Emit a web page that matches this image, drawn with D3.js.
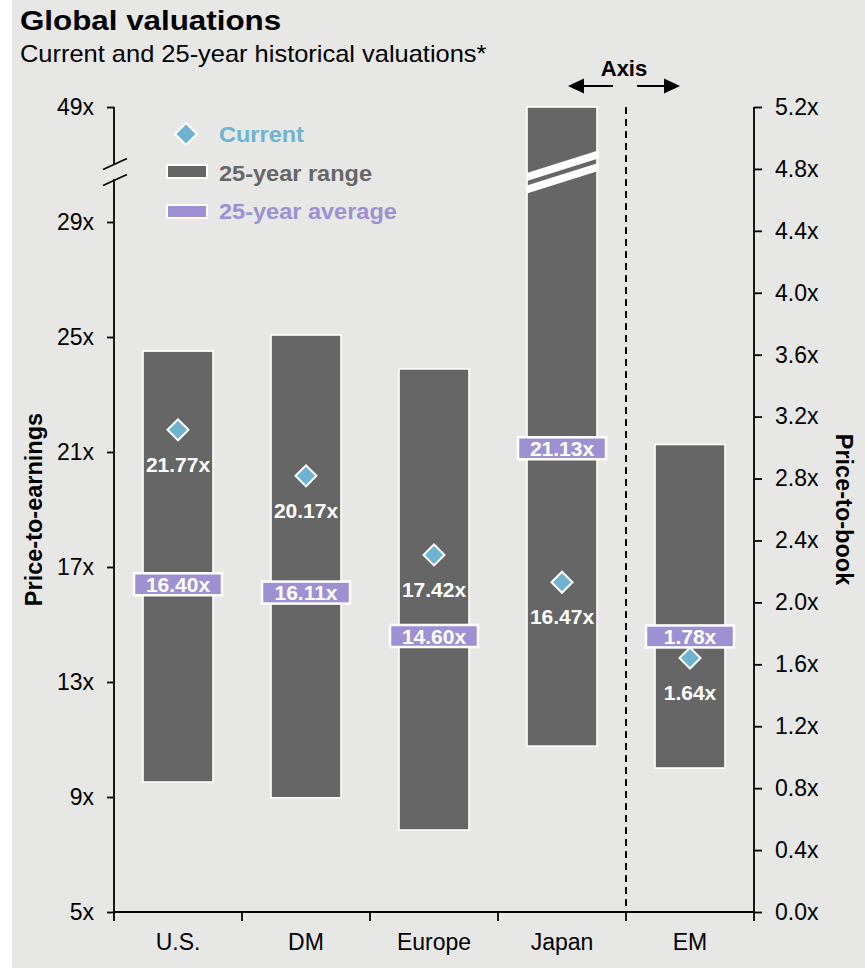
<!DOCTYPE html>
<html>
<head>
<meta charset="utf-8">
<script src="https://cdn.jsdelivr.net/npm/d3@7"></script>
<style>
  html, body { margin: 0; padding: 0; background: #ffffff; }
  svg { display: block; font-family: "Liberation Sans", Arial, Helvetica, sans-serif; }
</style>
</head>
<body>
<svg id="chart" width="865" height="969"></svg>
<script>
// ---------- data ----------
const categories = ["U.S.", "DM", "Europe", "Japan", "EM"];
const rangeLow   = [9.52, 8.97, 7.85, 10.77, 0.93];
const rangeHigh  = [24.51, 25.07, 23.89, 49, 3.02];
const current    = [21.77, 20.17, 17.42, 16.47, 1.64];
const average    = [16.40, 16.11, 14.60, 21.13, 1.78];
const axisOf     = ["pe", "pe", "pe", "pe", "pb"];
const peTicks    = [5, 9, 13, 17, 21, 25, 29, 49];
const pbTicks    = [0.0, 0.4, 0.8, 1.2, 1.6, 2.0, 2.4, 2.8, 3.2, 3.6, 4.0, 4.4, 4.8, 5.2];
const peBreakValue = 37.7;   // where the P/E axis is broken
const legendItems = ["Current", "25-year range", "25-year average"];

// ---------- colours ----------
const C_BG = "#e7e7e5", C_BAR = "#666666", C_CUR = "#6eb3cf", C_AVG = "#9d91d3";

const svg = d3.select("#chart");
svg.append("rect").attr("x", 12).attr("y", 0).attr("width", 853).attr("height", 968).attr("fill", C_BG);

// ---------- scales ----------
const x = d3.scaleBand().domain(categories).range([114, 754]);
const yPE = d3.scaleLinear().domain([5, 29, 49]).range([912, 222, 107]);
const yPB = d3.scaleLinear().domain([0, 5.2]).range([912, 107]);
const yOf = i => axisOf[i] === "pe" ? yPE : yPB;
const barW = 70;

// ---------- titles ----------
svg.append("text").attr("transform", "translate(20,30) scale(1.1,1)").attr("font-size", 28.5).attr("font-weight", "bold")
  .attr("fill", "#000").text("Global valuations");
svg.append("text").attr("transform", "translate(20,62) scale(1.06,1)").attr("font-size", 24)
  .attr("fill", "#000").text("Current and 25-year historical valuations*");

// ---------- bars ----------
const data = categories.map((c, i) => ({ c, i, lo: rangeLow[i], hi: rangeHigh[i], cur: current[i], avg: average[i] }));
const g = svg.append("g");
g.selectAll("rect.bar").data(data).enter().append("rect")
  .attr("class", "bar")
  .attr("x", d => x(d.c) + (x.bandwidth() - barW) / 2)
  .attr("width", barW)
  .attr("y", d => yOf(d.i)(d.hi))
  .attr("height", d => yOf(d.i)(d.lo) - yOf(d.i)(d.hi))
  .attr("fill", C_BAR).attr("stroke", "#ffffff").attr("stroke-width", 1.6);

// Japan bar break (white double stripe)
const jp = data.find(d => d.hi > 29);
if (jp) {
  const x0 = x(jp.c) + (x.bandwidth() - barW) / 2 - 1, x1 = x0 + barW + 3;
  const yc = yPE(peBreakValue);
  const rise = 23, th = 8, gap = 4.5;
  const yL = yc + rise / 2, yR = yc - rise / 2;
  [[-gap / 2 - th, -gap / 2], [gap / 2, gap / 2 + th]].forEach(([a, b]) => {
    svg.append("polygon")
      .attr("points", `${x0},${yL + a} ${x1},${yR + a} ${x1},${yR + b} ${x0},${yL + b}`)
      .attr("fill", "#ffffff");
  });
}

// ---------- dashed axis divider ----------
const divX = x("EM");
svg.append("line").attr("x1", divX).attr("x2", divX).attr("y1", 107).attr("y2", 912)
  .attr("stroke", "#000").attr("stroke-width", 2).attr("stroke-dasharray", "7,5");

// ---------- average labels ----------
const avgG = svg.selectAll("g.avg").data(data).enter().append("g")
  .attr("transform", d => `translate(${x(d.c) + x.bandwidth() / 2},${yOf(d.i)(d.avg)})`);
avgG.append("rect").attr("x", -44).attr("y", -11).attr("width", 88).attr("height", 22)
  .attr("fill", C_AVG).attr("stroke", "#ffffff").attr("stroke-width", 2.5);
avgG.append("text").attr("text-anchor", "middle").attr("dy", 7.5)
  .attr("font-size", 21).attr("font-weight", "bold").attr("fill", "#ffffff")
  .text(d => d.avg.toFixed(2) + "x");

// ---------- current markers ----------
const diamond = d3.symbol().type(d3.symbolSquare).size(220);
const curG = svg.selectAll("g.cur").data(data).enter().append("g")
  .attr("transform", d => `translate(${x(d.c) + x.bandwidth() / 2},${yOf(d.i)(d.cur)})`);
curG.append("path").attr("d", diamond).attr("transform", "rotate(45)")
  .attr("fill", C_CUR).attr("stroke", "#ffffff").attr("stroke-width", 2);
curG.append("text").attr("text-anchor", "middle").attr("y", 42)
  .attr("font-size", 21).attr("font-weight", "bold").attr("fill", "#ffffff")
  .text(d => d.cur.toFixed(2) + "x");

// ---------- axes ----------
const axL = svg.append("g").attr("transform", "translate(114,0)")
  .call(d3.axisLeft(yPE).tickValues(peTicks).tickSize(7).tickPadding(13).tickFormat(d => d + "x"));
const axR = svg.append("g").attr("transform", "translate(754,0)")
  .call(d3.axisRight(yPB).tickValues(pbTicks).tickSize(8).tickPadding(13).tickFormat(d => d.toFixed(1) + "x"));
const axB = svg.append("g").attr("transform", "translate(0,912)")
  .call(d3.axisBottom(x).tickSize(0).tickPadding(22));
[axL, axR, axB].forEach(a => {
  a.selectAll("text").attr("font-size", 23).attr("fill", "#000")
   .attr("font-family", "'Liberation Sans', Arial, sans-serif");
  a.selectAll("line").attr("stroke", "#000").attr("stroke-width", 1.8);
  a.select(".domain").remove();
});
axB.selectAll("text").attr("dy", "0.71em");

// axis lines
const yBreak = yPE(peBreakValue);
svg.append("line").attr("x1", 114).attr("x2", 114).attr("y1", yPE(49)).attr("y2", yBreak - 7)
  .attr("stroke", "#000").attr("stroke-width", 1.8);
svg.append("line").attr("x1", 114).attr("x2", 114).attr("y1", yBreak + 7).attr("y2", yPE(5))
  .attr("stroke", "#000").attr("stroke-width", 1.8);
[-8, 8].forEach(o => {
  svg.append("line").attr("x1", 103).attr("y1", yBreak + o + 5.5).attr("x2", 127).attr("y2", yBreak + o - 5.5)
    .attr("stroke", "#000").attr("stroke-width", 1.6);
});
svg.append("line").attr("x1", 754).attr("x2", 754).attr("y1", yPB(5.2)).attr("y2", yPB(0))
  .attr("stroke", "#000").attr("stroke-width", 1.8);
svg.append("line").attr("x1", 113).attr("x2", 755).attr("y1", 912).attr("y2", 912)
  .attr("stroke", "#000").attr("stroke-width", 2.2);
// category boundary ticks
const bounds = categories.map(c => x(c)).concat([x.range()[1]]);
svg.selectAll("line.bt").data(bounds).enter().append("line")
  .attr("x1", d => d).attr("x2", d => d).attr("y1", 912).attr("y2", 921)
  .attr("stroke", "#000").attr("stroke-width", 1.8);

// axis titles
svg.append("text").attr("transform", `translate(42,${(yPE(5) + yPE(49)) / 2}) rotate(-90)`)
  .attr("text-anchor", "middle").attr("font-size", 23.5).attr("font-weight", "bold").text("Price-to-earnings");
svg.append("text").attr("transform", `translate(836,${(yPB(0) + yPB(5.2)) / 2}) rotate(90)`)
  .attr("text-anchor", "middle").attr("font-size", 23.5).attr("font-weight", "bold").text("Price-to-book");

// "Axis" annotation with arrows
svg.append("text").attr("x", divX - 2).attr("y", 76).attr("text-anchor", "middle")
  .attr("font-size", 22).attr("font-weight", "bold").text("Axis");
const arrowY = 86;
svg.append("line").attr("x1", divX - 13).attr("x2", divX - 42).attr("y1", arrowY).attr("y2", arrowY)
  .attr("stroke", "#000").attr("stroke-width", 2);
svg.append("path").attr("d", `M${divX - 58},${arrowY} L${divX - 42},${arrowY - 7.5} L${divX - 42},${arrowY + 7.5} Z`).attr("fill", "#000");
svg.append("line").attr("x1", divX + 11).attr("x2", divX + 38).attr("y1", arrowY).attr("y2", arrowY)
  .attr("stroke", "#000").attr("stroke-width", 2);
svg.append("path").attr("d", `M${divX + 54},${arrowY} L${divX + 38},${arrowY - 7.5} L${divX + 38},${arrowY + 7.5} Z`).attr("fill", "#000");

// ---------- legend ----------
const lg = svg.append("g");
lg.append("path").attr("d", d3.symbol().type(d3.symbolSquare).size(240)).attr("transform", "translate(186,134) rotate(45)")
  .attr("fill", C_CUR).attr("stroke", "#ffffff").attr("stroke-width", 2);
lg.append("rect").attr("x", 167).attr("y", 165).attr("width", 40).attr("height", 13)
  .attr("fill", C_BAR).attr("stroke", "#fff").attr("stroke-width", 2);
lg.append("rect").attr("x", 167).attr("y", 205).attr("width", 40).attr("height", 13)
  .attr("fill", C_AVG).attr("stroke", "#fff").attr("stroke-width", 2);
const legCols = [C_CUR, C_BAR, C_AVG];
legendItems.forEach((t, i) => {
  lg.append("text").attr("transform", `translate(219,${142 + i * 38.5}) scale(1.07,1)`)
    .attr("font-size", 22).attr("font-weight", "bold")
    .attr("fill", legCols[i]).text(t);
});
</script>
</body>
</html>
